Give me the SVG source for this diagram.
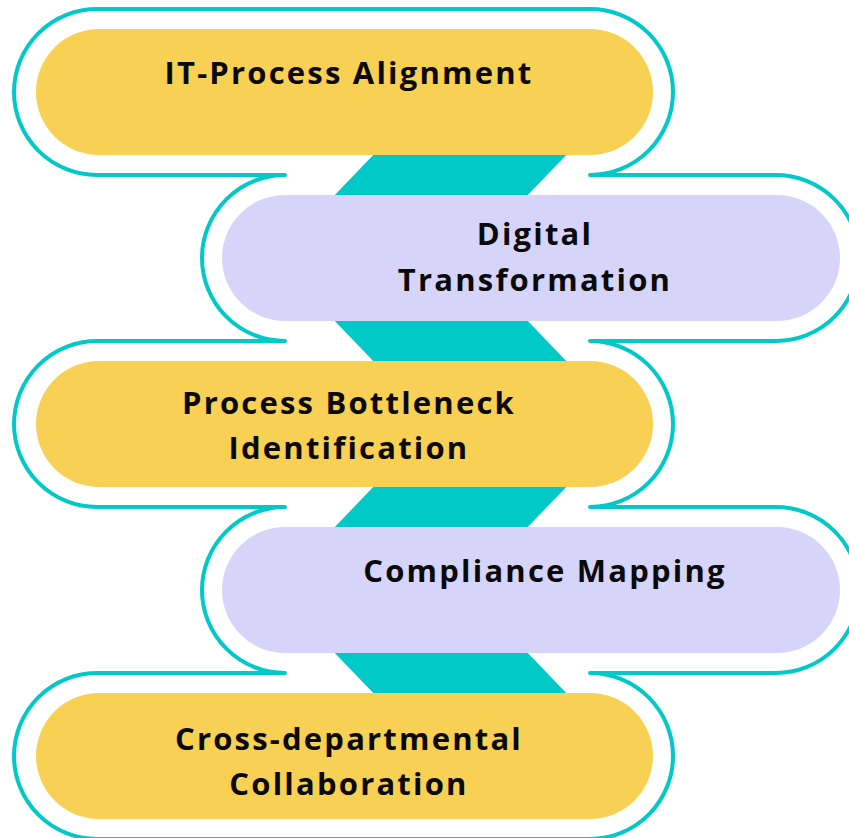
<svg xmlns="http://www.w3.org/2000/svg" width="849" height="838" viewBox="0 0 849 838">
<style>
.yel{fill:#F8D053}
.lav{fill:#D7D4FA}
.con{fill:#00C9C8}
.out{fill:none;stroke:#00C9C8;stroke-width:4;stroke-linecap:round;stroke-linejoin:round}
.lbl{font-family:"Open Sans","Noto Sans","DejaVu Sans",sans-serif;font-weight:700;font-size:31px;fill:#0A0A0A;text-anchor:middle;letter-spacing:2.2px}
</style>
<rect width="849" height="838" fill="#FFFFFF"/>
<g id="connectors">
<path class="out" d="M285,175 H97 A83,83 0 0 1 97,9 H590 A83,83 0 0 1 590,175 H776 A83,83 0 0 1 776,341 H590 A83,83 0 0 1 590,507 H776 A83,83 0 0 1 776,673 H590 A83,83 0 0 1 590,839 H97 A83,83 0 0 1 97,673 H285 A83,83 0 0 1 285,507 H97 A83,83 0 0 1 97,341 H285 A83,83 0 0 1 285,175"/>
<polygon class="con" points="378,150 571,150 523,200 330,200"/>
<polygon class="con" points="330,316 523,316 571,366 378,366"/>
<polygon class="con" points="378,482 571,482 523,532 330,532"/>
<polygon class="con" points="330,648 523,648 571,698 378,698"/>
</g>
<g id="node1">
<rect class="yel" x="36" y="29" width="617" height="126" rx="63"/>
<text class="lbl" x="349" y="84">IT-Process Alignment</text>
</g>
<g id="node2">
<rect class="lav" x="222" y="195" width="618" height="126" rx="63"/>
<text class="lbl" x="535" y="245">Digital</text>
<text class="lbl" x="535" y="291">Transformation</text>
</g>
<g id="node3">
<rect class="yel" x="36" y="361" width="617" height="126" rx="63"/>
<text class="lbl" x="349" y="414">Process Bottleneck</text>
<text class="lbl" x="349" y="459">Identification</text>
</g>
<g id="node4">
<rect class="lav" x="222" y="527" width="618" height="126" rx="63"/>
<text class="lbl" x="545" y="582">Compliance Mapping</text>
</g>
<g id="node5">
<rect class="yel" x="36" y="693" width="617" height="126" rx="63"/>
<text class="lbl" x="349" y="750">Cross-departmental</text>
<text class="lbl" x="349" y="795">Collaboration</text>
</g>
</svg>
